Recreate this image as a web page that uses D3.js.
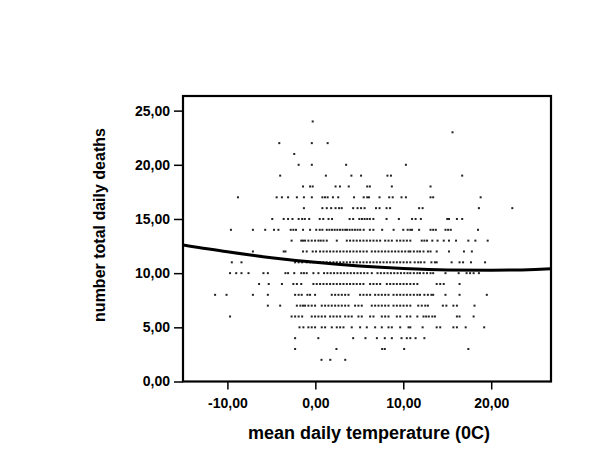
<!DOCTYPE html>
<html>
<head>
<meta charset="utf-8">
<script src="https://cdn.jsdelivr.net/npm/d3@7"></script>
<style>
  html, body { margin: 0; padding: 0; background: #fff; }
  svg { display: block; }
</style>
</head>
<body>
<svg id="chart" width="600" height="463"></svg>
<script>
// ---- data ----
const xTicks = [-10, 0, 10, 20];
const yTicks = [0, 5, 10, 15, 20, 25];
const xDomain = [-15.05, 26.8];
const yDomain = [0, 26.35];
const xTitle = "mean daily temperature (0C)";
const yTitle = "number total daily deaths";

// number of deaths (y) for each row of points
const deathValues = [24, 23, 22, 21, 20, 19, 18, 17, 16, 15, 14, 13, 12, 11, 10, 9, 8, 7, 6, 5, 4, 3, 2];
// mean temperatures (x) of the days in each row, same order as deathValues
const tempsByDeaths = [
  [-0.3],
  [15.6],
  [-4.1, -0.4, 1.4],
  [-2.4],
  [-1.9, -0.4, 3.5, 10.3],
  [-4.0, 1.2, 4.1, 5.2, 8.2, 8.6, 16.7],
  [-1.4, -0.6, -0.3, 2.3, 2.8, 3.8, 5.9, 6.2, 8.7, 13.1],
  [-8.8, -4.4, -3.8, -3.1, -2.1, -1.3, -0.4, 0.8, 1.1, 1.4, 2.0, 2.6, 4.4, 5.5, 5.9, 6.1, 7.3, 8.4, 8.8, 9.8, 10.3, 13.1, 13.4, 18.8],
  [-1.3, 0.8, 1.3, 1.8, 2.3, 2.7, 3.0, 4.3, 4.8, 5.2, 5.6, 6.9, 7.3, 8.1, 8.5, 11.8, 12.2, 18.6, 22.4],
  [-4.9, -3.6, -3.1, -2.6, -1.9, -1.5, -1.2, -0.7, 0.5, 0.9, 1.5, 1.9, 3.9, 4.3, 5.0, 5.3, 5.6, 5.9, 6.2, 6.6, 8.1, 9.5, 11.0, 11.4, 12.0, 15.0, 15.2, 16.1, 16.7],
  [-9.6, -7.1, -5.7, -4.7, -4.2, -2.8, -2.5, -2.2, -1.4, -0.6, 0.1, 0.5, 0.8, 1.3, 1.6, 1.9, 2.2, 2.5, 2.8, 3.1, 3.4, 3.6, 3.9, 4.2, 4.5, 4.8, 5.1, 5.5, 6.2, 6.6, 7.6, 8.9, 10.0, 10.5, 10.8, 11.0, 11.8, 13.1, 13.4, 13.7, 14.8, 15.1, 15.4, 18.5],
  [-2.7, -1.6, -1.4, -1.17, -0.79, -0.41, -0.03, 0.35, 0.61, 0.92, 1.30, 2.44, 3.58, 3.95, 4.33, 4.71, 5.09, 5.47, 5.85, 6.23, 6.61, 6.99, 7.37, 7.94, 8.32, 8.70, 9.27, 9.65, 10.03, 10.41, 10.8, 12.1, 12.4, 12.7, 13.3, 13.9, 14.6, 15.2, 16.0, 17.4, 18.2, 19.6],
  [-7.1, -3.6, -3.4, -1.4, -0.98, -0.30, 0.08, 0.54, 0.92, 1.30, 1.68, 2.06, 2.44, 2.82, 3.20, 3.58, 3.95, 4.33, 4.71, 5.09, 5.47, 5.85, 6.42, 6.80, 7.18, 7.56, 7.94, 8.32, 8.70, 9.08, 9.46, 9.84, 10.22, 10.60, 10.8, 11.2, 11.6, 11.9, 12.3, 12.8, 13.1, 13.8, 15.2, 16.9, 17.8],
  [-9.5, -8.4, -2.3, -1.9, -1.5, -0.98, -0.60, -0.22, 0.16, 0.54, 0.92, 1.30, 1.68, 2.06, 2.44, 2.82, 3.20, 3.58, 3.95, 4.33, 4.71, 5.09, 5.47, 5.85, 6.23, 6.61, 6.99, 7.37, 7.75, 8.13, 8.51, 8.89, 9.27, 9.65, 10.03, 10.41, 10.8, 11.3, 11.7, 12.0, 12.4, 13.2, 13.6, 13.8, 15.5, 16.4, 16.8, 17.7, 19.3],
  [-9.7, -9.0, -8.4, -7.6, -5.9, -5.4, -3.4, -3.1, -2.4, -1.6, -1.3, -0.98, -0.22, 0.35, 0.99, 1.37, 1.75, 2.13, 2.51, 2.89, 3.27, 3.65, 4.03, 4.41, 4.79, 5.17, 5.55, 5.93, 6.42, 7.07, 7.45, 7.83, 8.21, 8.59, 8.97, 9.35, 9.73, 10.11, 10.48, 10.8, 11.2, 11.6, 11.9, 12.3, 12.7, 13.1, 13.4, 14.8, 16.3, 17.2, 17.6, 18.0, 18.6],
  [-6.4, -5.3, -3.8, -2.5, -2.1, -1.6, -0.22, 0.16, 0.54, 0.92, 1.30, 1.68, 2.06, 2.44, 2.82, 3.20, 3.58, 3.95, 4.33, 4.71, 5.09, 5.47, 6.23, 6.61, 6.99, 7.37, 8.13, 8.51, 8.89, 9.27, 9.65, 10.03, 10.4, 10.8, 11.2, 11.6, 13.8, 14.2, 14.6, 16.4],
  [-11.4, -10.1, -7.1, -5.4, -2.3, -1.9, -1.55, -0.90, -0.60, -0.03, 1.87, 2.25, 2.63, 3.01, 3.39, 3.77, 5.09, 5.47, 5.85, 6.23, 6.80, 7.18, 7.56, 7.94, 8.32, 8.89, 9.27, 9.65, 10.03, 10.41, 10.8, 11.2, 11.6, 11.9, 12.4, 12.8, 13.2, 13.4, 14.8, 16.4, 19.5],
  [-5.4, -4.0, -2.1, -1.7, -1.4, -1.17, -0.79, -0.41, -0.03, 0.73, 1.11, 1.49, 1.87, 2.25, 2.63, 3.01, 3.39, 3.77, 4.52, 4.90, 5.28, 6.42, 6.80, 7.18, 7.56, 7.94, 8.32, 8.89, 9.27, 9.65, 10.03, 10.41, 10.8, 11.7, 12.1, 12.5, 12.8, 14.5, 14.9, 15.7, 16.1, 18.1],
  [-9.7, -2.7, -2.3, -1.9, -1.5, -0.41, -0.03, 0.35, 0.73, 1.11, 1.68, 2.06, 2.44, 2.82, 3.39, 3.77, 4.14, 4.90, 5.28, 6.23, 6.61, 7.56, 7.94, 8.32, 9.27, 9.65, 10.41, 10.8, 11.6, 12.3, 12.6, 12.9, 13.3, 13.6, 16.1, 16.4, 18.0],
  [-1.8, -1.36, -0.79, -0.41, -0.03, 0.73, 1.11, 1.87, 2.44, 2.82, 3.20, 4.14, 5.09, 5.85, 6.80, 7.56, 8.32, 8.70, 9.65, 10.60, 10.8, 12.2, 13.8, 14.2, 15.7, 16.1, 17.1, 19.2],
  [-2.3, 0.34, 4.3, 5.7, 7.0, 7.9, 8.7, 9.8, 10.4, 10.8, 11.4, 12.4],
  [-2.3, 2.4, 7.6, 7.9, 10.1, 17.4],
  [0.7, 1.7, 3.4]
];

// quadratic fit line
const fitTemps  = [-15.05, -10, -5, 0, 5, 10, 15, 20, 25, 26.8];
const fitDeaths = [12.6, 11.97, 11.43, 11.0, 10.67, 10.44, 10.30, 10.27, 10.34, 10.40];

// ---- drawing ----
const svg = d3.select("#chart");
const plot = { left: 183, right: 551, top: 96, bottom: 381.5 };

const x = d3.scaleLinear().domain(xDomain).range([plot.left, plot.right]);
const y = d3.scaleLinear().domain(yDomain).range([plot.bottom, plot.top]);

const fmt = d => d3.format(".2f")(d).replace(".", ",").replace("\u2212", "-");
const font = "'Liberation Sans', Arial, sans-serif";

// points
const points = [];
deathValues.forEach((v, i) => tempsByDeaths[i].forEach(t => points.push({ t, v })));
svg.append("g")
  .selectAll("rect")
  .data(points)
  .join("rect")
  .attr("x", d => x(d.t) - 1)
  .attr("y", d => y(d.v) - 1)
  .attr("width", 2)
  .attr("height", 2)
  .attr("fill", "#222");

// clip for fit line
svg.append("clipPath").attr("id", "clip")
  .append("rect")
  .attr("x", plot.left).attr("y", plot.top)
  .attr("width", plot.right - plot.left).attr("height", plot.bottom - plot.top);

const fitData = fitTemps.map((t, i) => ({ t, v: fitDeaths[i] }));
svg.append("path")
  .datum(fitData)
  .attr("clip-path", "url(#clip)")
  .attr("fill", "none")
  .attr("stroke", "#000")
  .attr("stroke-width", 3)
  .attr("d", d3.line().x(d => x(d.t)).y(d => y(d.v)).curve(d3.curveMonotoneX));

// axes
const xAxis = svg.append("g")
  .attr("transform", `translate(0,${plot.bottom})`)
  .call(d3.axisBottom(x).tickValues(xTicks).tickFormat(fmt).tickSize(8).tickPadding(9));
const yAxis = svg.append("g")
  .attr("transform", `translate(${plot.left},0)`)
  .call(d3.axisLeft(y).tickValues(yTicks).tickFormat(fmt).tickSize(9).tickPadding(4));

[xAxis, yAxis].forEach(g => {
  g.select(".domain").remove();
  g.selectAll(".tick line").attr("stroke", "#000").attr("stroke-width", 1.5);
  g.selectAll(".tick text")
    .attr("fill", "#000")
    .style("font-family", font)
    .style("font-size", "14px")
    .style("font-weight", "bold");
});

// frame
svg.append("rect")
  .attr("x", plot.left).attr("y", plot.top)
  .attr("width", plot.right - plot.left).attr("height", plot.bottom - plot.top)
  .attr("fill", "none").attr("stroke", "#000").attr("stroke-width", 2.2);

// titles
svg.append("text")
  .attr("x", 369)
  .attr("y", 439)
  .attr("text-anchor", "middle")
  .style("font-family", font).style("font-size", "18px").style("font-weight", "bold")
  .text(xTitle);

svg.append("text")
  .attr("transform", `translate(105,225) rotate(-90)`)
  .attr("text-anchor", "middle")
  .style("font-family", font).style("font-size", "16px").style("font-weight", "bold")
  .text(yTitle);
</script>
</body>
</html>
